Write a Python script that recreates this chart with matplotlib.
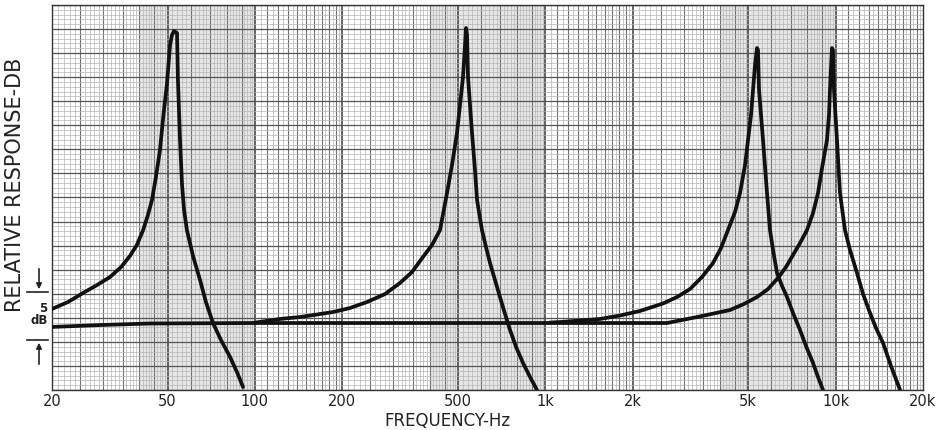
import numpy as np
import matplotlib
matplotlib.use("Agg")
import matplotlib.pyplot as plt

# ---------------- data ----------------
# Resonance near 52 Hz
peak50_f = [20.0, 22.7, 25.6, 28.6, 31.7, 34.6, 37.1, 39.2, 41.2, 42.8, 44.2,
            45.6, 47.1, 48.2, 49.8, 51.0, 51.8, 52.6,
            53.9, 54.3, 55.2, 56.1, 57.0, 58.3, 61.2, 64.7, 67.8, 71.7, 76.4,
            82.1, 86.7, 91.0]
peak50_db = [8.42, 9.14, 10.08, 10.91, 11.74, 12.78, 13.92, 15.06, 16.62,
             18.18, 19.74, 22.13, 24.94, 28.05, 31.90, 35.84, 36.88, 37.30,
             37.09, 32.21, 25.97, 21.30, 18.70, 16.62, 13.92, 11.43, 9.14,
             6.96, 5.19, 3.43, 1.87, 0.31]

# Resonance near 530 Hz
peak500_f = [100.1, 122.0, 143.0, 185.8, 212.6, 243.2, 280.5, 316.0, 347.6,
             379.2, 407.3, 434.0, 458.8, 477.3, 496.6, 508.6, 520.8, 529.2,
             533.4,
             537.7, 541.9, 559.4, 572.8, 582.1, 605.3, 624.9, 645.2, 671.2,
             698.2, 726.9, 756.2, 793.3, 838.2, 886.2, 936.6]
peak500_db = [7.0, 7.38, 7.58, 8.10, 8.52, 9.14, 9.97, 11.12, 12.26, 13.82,
              15.06, 16.62, 20.47, 23.38, 26.70, 29.61, 32.52, 35.84, 37.61,
              36.88, 32.52, 26.70, 22.86, 19.74, 16.62, 14.86, 13.19, 11.43,
              9.66, 7.90, 6.23, 4.47, 2.81, 1.35, 0.0]

# Resonance near 5.3 kHz
peak5k_f = [1038, 1124, 1544, 1809, 2120, 2544, 2843, 3152, 3466, 3782, 4030,
            4260, 4503, 4686, 4876, 4993, 5113, 5195, 5278, 5362,
            5404, 5448, 5623, 5804, 5944, 6088, 6283, 6539, 6802, 7134, 7542,
            7907, 8361, 8698, 9050]
peak5k_db = [7.01, 7.06, 7.38, 7.74, 8.21, 8.99, 9.66, 10.49, 11.74, 13.19,
             14.75, 16.62, 18.49, 20.47, 23.38, 25.97, 28.57, 31.17, 33.77,
             35.53,
             35.32, 31.17, 25.97, 20.47, 16.62, 14.55, 12.16, 10.81, 9.66,
             8.00, 6.23, 4.57, 2.81, 1.35, 0.0]

# Flat trace that rises into the resonance near 9.8 kHz
peak10k_f = [20, 29.3, 43.5, 100, 316, 1124, 2626, 3331, 4328, 4836, 5362,
             5852, 6334, 6748, 7134, 7542, 7971, 8361, 8698, 8980, 9339, 9490,
             9563, 9642, 9718,
             9795, 9874, 10110, 10355, 10771, 11210, 11849, 12433, 13137,
             13779, 14569, 15517, 16670]
peak10k_db = [6.55, 6.75, 6.91, 6.96, 6.96, 6.96, 6.96, 7.58, 8.31, 8.94,
              9.66, 10.49, 11.64, 12.78, 14.03, 15.27, 16.62, 18.39, 20.47,
              23.06, 25.97, 28.57, 31.17, 33.45, 35.53,
              35.32, 31.17, 25.97, 20.47, 16.62, 14.55, 12.16, 9.97, 8.00,
              6.44, 4.88, 2.49, 0.0]

tick_freqs = [20, 50, 100, 200, 500, 1000, 2000, 5000, 10000, 20000]
tick_labels = ["20", "50", "100", "200", "500", "1k", "2k", "5k", "10k", "20k"]

shaded_bands = [(40, 100), (400, 1000), (4000, 10000)]

# ---------------- figure ----------------
W, H = 946, 430
fig = plt.figure(figsize=(W / 100, H / 100), dpi=100)
fig.patch.set_facecolor("white")
ax = fig.add_axes([52 / W, 1 - 390 / H, 871 / W, 385 / H])
ax.set_xscale("log")
ax.set_xlim(20, 20000)
ax.set_ylim(0, 40)

# shaded bands of the chart paper
for a, b in shaded_bands:
    ax.axvspan(a, b, color="#c8c8c8", alpha=0.45, lw=0, zorder=0)

# vertical grid of log paper
minor_v, mid_v = [], []
for dec in [10, 100, 1000, 10000]:
    for m in np.arange(1.0, 2.0, 0.05):
        (mid_v if abs(m * 10 - round(m * 10)) < 1e-6 else minor_v).append(m * dec)
    for m in np.arange(2.0, 5.0, 0.1):
        (mid_v if abs(m * 2 - round(m * 2)) < 1e-6 else minor_v).append(m * dec)
    for m in np.arange(5.0, 10.0, 0.2):
        (mid_v if abs(m - round(m)) < 1e-6 else minor_v).append(m * dec)
minor_v = [v for v in minor_v if 20 < v < 20000]
mid_v = [v for v in mid_v if 20 < v < 20000 and v not in tick_freqs]
ax.vlines(minor_v, 0, 40, color="#b4b4b4", lw=0.5, zorder=1)
ax.vlines(mid_v, 0, 40, color="#707070", lw=0.8, zorder=1)
ax.vlines(tick_freqs[1:-1], 0, 40, color="#3a3a3a", lw=1.1, zorder=1)

# horizontal grid
ax.hlines(np.arange(0, 40.01, 0.5), 20, 20000, color="#b4b4b4", lw=0.5, zorder=1)
ax.hlines(np.arange(0, 40.01, 2.5), 20, 20000, color="#555555", lw=0.9, zorder=1)

# traces
for fx, dbv in [(peak50_f, peak50_db), (peak500_f, peak500_db),
                (peak5k_f, peak5k_db), (peak10k_f, peak10k_db)]:
    ax.plot(fx, dbv, color="#111111", lw=2.7, solid_joinstyle="round",
            solid_capstyle="round", zorder=3)

# axes styling
for s in ax.spines.values():
    s.set_color("#333333")
    s.set_linewidth(1.0)
ax.set_xticks(tick_freqs)
ax.set_xticklabels(tick_labels)
ax.xaxis.set_minor_locator(matplotlib.ticker.NullLocator())
ax.tick_params(axis="x", length=0, pad=3, labelsize=10.5, labelcolor="#222222")
ax.set_yticks([])

fig.text(447 / W, 1 - 421 / H, "FREQUENCY-Hz", ha="center", va="center",
         fontsize=12, color="#222222")
fig.text(15 / W, 1 - 185 / H, "RELATIVE RESPONSE-DB", rotation=90,
         ha="center", va="center", fontsize=15, color="#222222")

# 5 dB scale marker at the left edge
fig.add_artist(plt.Line2D([27 / W, 48 / W], [1 - 292 / H, 1 - 292 / H],
                          color="#222222", lw=1.2))
fig.add_artist(plt.Line2D([27 / W, 48 / W], [1 - 340 / H, 1 - 340 / H],
                          color="#222222", lw=1.2))
fig.patches.append(matplotlib.patches.FancyArrowPatch(
    (39 / W, 1 - 266 / H), (39 / W, 1 - 292 / H), transform=fig.transFigure,
    arrowstyle="-|>", mutation_scale=8, color="#222222", lw=1.2))
fig.patches.append(matplotlib.patches.FancyArrowPatch(
    (39 / W, 1 - 367 / H), (39 / W, 1 - 340 / H), transform=fig.transFigure,
    arrowstyle="-|>", mutation_scale=8, color="#222222", lw=1.2))
fig.text(43 / W, 1 - 308 / H, "5", ha="center", va="center", fontsize=8.5,
         fontweight="bold", color="#222222")
fig.text(39 / W, 1 - 321 / H, "dB", ha="center", va="center", fontsize=8.5,
         fontweight="bold", color="#222222")

fig.savefig("out.png", dpi=100, facecolor="white")
